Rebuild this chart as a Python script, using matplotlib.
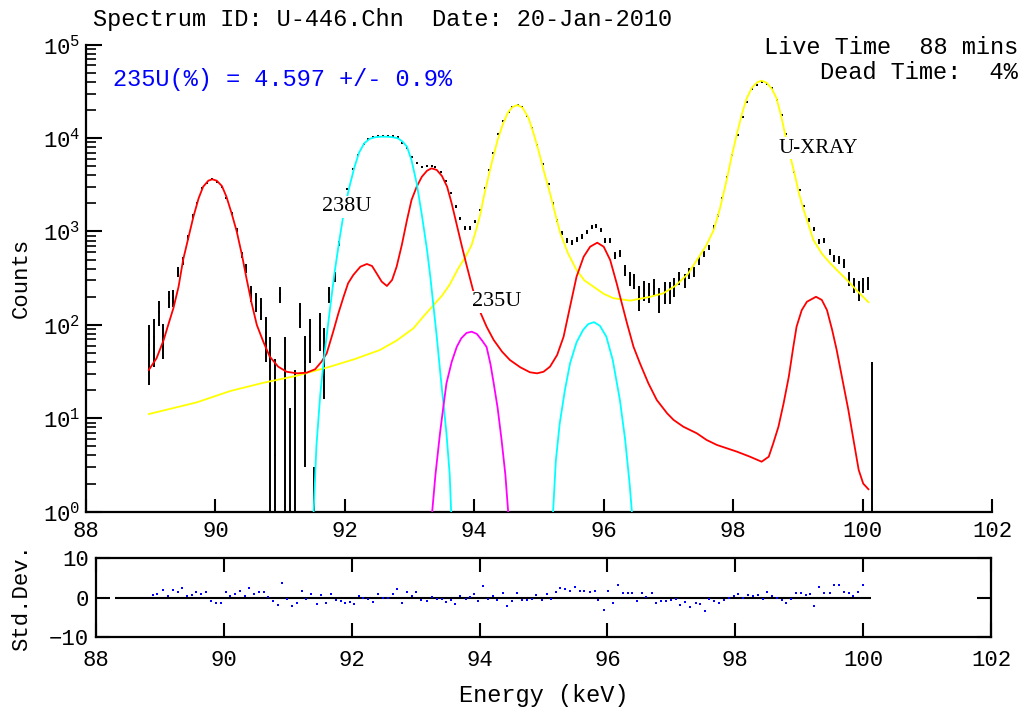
import numpy as np
import matplotlib
matplotlib.use("Agg")
from matplotlib import pyplot as plt
from matplotlib.ticker import LogLocator, NullFormatter, FixedLocator

plt.rcParams['font.family'] = ['Liberation Mono', 'DejaVu Sans']
plt.rcParams['font.size'] = 16

# measured spectrum: channel energy (keV), counts, 1-sigma uncertainty
kev = [88.97, 89.05, 89.13, 89.19, 89.28, 89.35, 89.42, 89.50, 89.58, 89.66,
       89.72, 89.80, 89.87, 89.95, 90.03, 90.10, 90.17, 90.25, 90.33, 90.41,
       90.48, 90.55, 90.63, 90.70, 90.78, 90.85, 90.92, 91.00, 91.08, 91.15,
       91.23, 91.31, 91.38, 91.46, 91.53, 91.61, 91.68, 91.76, 91.84, 91.91,
       91.99, 92.04, 92.13, 92.20, 92.29, 92.35, 92.43, 92.51, 92.59, 92.66,
       92.74, 92.82, 92.88, 92.96, 93.03, 93.11, 93.19, 93.27, 93.34, 93.40,
       93.48, 93.56, 93.64, 93.71, 93.78, 93.86, 93.94, 94.01, 94.09, 94.17,
       94.22, 94.29, 94.36, 94.44, 94.53, 94.59, 94.67, 94.74, 94.81, 94.89,
       94.97, 95.06, 95.15, 95.21, 95.28, 95.36, 95.44, 95.51, 95.58, 95.66,
       95.74, 95.82, 95.88, 95.96, 96.02, 96.10, 96.18, 96.25, 96.33, 96.40,
       96.47, 96.55, 96.62, 96.70, 96.78, 96.86, 96.94, 97.02, 97.09, 97.17,
       97.25, 97.32, 97.39, 97.47, 97.55, 97.62, 97.70, 97.76, 97.83, 97.90,
       97.98, 98.07, 98.15, 98.22, 98.29, 98.37, 98.44, 98.52, 98.60, 98.67,
       98.75, 98.82, 98.88, 98.94, 99.03, 99.10, 99.17, 99.25, 99.33, 99.41,
       99.49, 99.56, 99.64, 99.72, 99.79, 99.87, 99.95, 100.01, 100.09, 100.15]
counts = [61, 75, 139, 72, 192, 196, 372, 483, 867, 1466,
          2033, 2900, 3330, 3620, 3410, 3020, 2270, 1566, 1037, 560,
          404, 218, 180, 153, 81, 36, 4, 213, 36, -26,
          -5, 131, 40, 77, -35, 93, 54, 213, 330, 750,
          1600, 2830, 4670, 6600, 8650, 9780, 10350, 10600, 10650, 10650,
          10650, 10350, 8800, 7780, 6320, 5460, 4940, 5070, 5070, 4940,
          4370, 3470, 2565, 1845, 1380, 1080, 1080, 1275, 1700, 2900,
          4500, 6980, 10970, 15240, 19190, 21700, 22600, 21700, 17250, 12730,
          8440, 5240, 3230, 2000, 1306, 957, 798, 760, 825, 880,
          980, 1125, 1150, 1040, 800, 810, 560, 585, 387, 315,
          295, 200, 237, 227, 257, 193, 227, 227, 257, 315,
          302, 357, 370, 487, 575, 677, 1110, 1475, 2265, 3860,
          6590, 10800, 16950, 24550, 33250, 37000, 40200, 38000, 34100, 25600,
          17700, 11000, 6800, 4370, 2780, 1875, 1330, 1065, 778, 811,
          608, 517, 502, 457, 315, 267, 237, 267, 279, -10]
sigma = [38, 40, 42, 29, 40, 39, 44, 45, 50, 55,
         60, 65, 70, 70, 70, 65, 60, 55, 50, 46,
         45, 40, 42, 40, 41, 39, 39, 43, 39, 39,
         38, 39, 37, 38, 38, 40, 38, 43, 40, 48,
         55, 65, 75, 85, 95, 100, 105, 105, 105, 105,
         105, 105, 95, 90, 85, 80, 80, 80, 80, 80,
         75, 70, 65, 60, 55, 52, 52, 55, 58, 65,
         75, 90, 110, 125, 140, 150, 150, 150, 135, 115,
         95, 80, 65, 60, 55, 50, 50, 50, 50, 50,
         50, 52, 52, 52, 50, 50, 50, 50, 50, 52,
         52, 60, 55, 55, 55, 58, 58, 60, 58, 50,
         52, 50, 48, 45, 45, 45, 50, 55, 60, 70,
         85, 110, 135, 160, 185, 195, 200, 195, 185, 160,
         135, 110, 90, 75, 65, 58, 55, 52, 50, 50,
         48, 48, 48, 48, 52, 50, 55, 50, 45, 50]

# fitted components
red_kev = [88.97, 89.09, 89.20, 89.27, 89.35, 89.43, 89.50, 89.58, 89.66, 89.74,
           89.81, 89.89, 89.95, 90.02, 90.10, 90.17, 90.25, 90.33, 90.41, 90.48,
           90.56, 90.64, 90.74, 90.84, 90.97, 91.10, 91.26, 91.41, 91.54, 91.64,
           91.72, 91.82, 91.90, 91.98, 92.05, 92.13, 92.24, 92.34, 92.42, 92.49,
           92.57, 92.65, 92.73, 92.80, 92.88, 92.96, 93.03, 93.11, 93.19, 93.27,
           93.34, 93.42, 93.50, 93.58, 93.65, 93.73, 93.81, 93.88, 93.98, 94.09,
           94.19, 94.30, 94.43, 94.55, 94.71, 94.86, 94.97, 95.07, 95.17, 95.28,
           95.38, 95.48, 95.58, 95.69, 95.79, 95.90, 96.00, 96.10, 96.20, 96.28,
           96.36, 96.46, 96.56, 96.69, 96.82, 96.98, 97.08, 97.23, 97.44, 97.59,
           97.75, 98.06, 98.26, 98.44, 98.55, 98.62, 98.70, 98.78, 98.86, 98.93,
           98.98, 99.06, 99.14, 99.28, 99.37, 99.45, 99.53, 99.60, 99.68, 99.78,
           99.86, 99.94, 100.01, 100.09]
red_val = [32.9, 43.9, 68.9, 99.7, 150.6, 256, 495, 846, 1442, 2266,
           3017, 3499, 3622, 3499, 3070, 2360, 1567, 995, 560, 315,
           170, 99.7, 66, 45.7, 35.7, 31.5, 30.3, 30.8, 33.5, 40.4,
           49.7, 84.6, 133, 200, 279, 342, 420, 449, 427, 357,
           290, 261, 303, 420, 717, 1327, 2174, 3017, 3860, 4478,
           4750, 4560, 3930, 3017, 2004, 1174, 687, 438, 237, 138,
           95.7, 68.9, 51.6, 42.1, 35.2, 31.1, 30.3, 31.5, 35.7, 47.6,
           74.8, 157, 328, 537, 687, 759, 687, 495, 279, 170,
           104, 58.4, 38.8, 23.7, 15.7, 11.3, 9.6, 8.13, 6.9, 5.86,
           5.18, 4.39, 3.88, 3.43, 3.88, 5.4, 8.13, 14.5, 27.9, 58.4,
           95.7, 144, 177, 200, 185, 144, 88.3, 53.8, 27.9, 12.3,
           5.86, 2.8, 2.0, 1.74]

yel_kev = [88.97, 89.71, 90.23, 90.74, 91.26, 91.77, 92.15, 92.54, 92.80, 93.06,
           93.20, 93.37, 93.50, 93.62, 93.75, 93.88, 93.96, 94.03, 94.09, 94.15,
           94.22, 94.29, 94.36, 94.44, 94.52, 94.59, 94.67, 94.75, 94.84, 94.92,
           94.99, 95.08, 95.17, 95.25, 95.33, 95.45, 95.58, 95.70, 95.84, 96.00,
           96.15, 96.41, 96.72, 96.92, 97.10, 97.30, 97.44, 97.58, 97.70, 97.80,
           97.90, 97.98, 98.06, 98.14, 98.21, 98.29, 98.37, 98.44, 98.52, 98.60,
           98.67, 98.74, 98.80, 98.88, 98.96, 99.02, 99.09, 99.17, 99.24, 99.37,
           99.50, 99.63, 99.76, 99.92, 100.09]
yel_val = [11.1, 14.8, 19.6, 24, 28.6, 35.7, 43, 53.8, 68, 92,
           120, 163, 205, 270, 400, 560, 720, 1050, 1500, 2400,
           3900, 6200, 9500, 14000, 18800, 21500, 22600, 21000, 16300, 11000,
           7460, 4300, 2565, 1550, 957, 580, 387, 300, 257, 215,
           193, 182, 200, 218, 260, 350, 495, 700, 1037, 1800,
           3560, 6500, 11250, 18500, 26700, 34500, 39500, 41200, 39000, 33500,
           26700, 17500, 11250, 6500, 3860, 2500, 1700, 1150, 811, 580,
           457, 370, 302, 230, 175]

cyan1_kev = [91.50, 91.56, 91.62, 91.68, 91.76, 91.84, 91.92, 91.99, 92.07, 92.15,
             92.22, 92.30, 92.38, 92.46, 92.55, 92.64, 92.73, 92.82, 92.89, 92.96,
             93.03, 93.11, 93.19, 93.27, 93.32, 93.37, 93.42, 93.47, 93.52, 93.57,
             93.62, 93.66]
cyan1_val = [0.5, 5, 18, 45.7, 130, 360, 850, 1700, 3000, 4940,
             7000, 8800, 9800, 10200, 10350, 10350, 10250, 9950, 9200, 8090,
             5800, 3280, 1500, 634, 330, 157, 75, 32.9, 15, 6.9,
             2.5, 0.5]
cyan2_kev = [95.20, 95.26, 95.32, 95.40, 95.48, 95.58, 95.68, 95.76, 95.85, 95.94,
             96.04, 96.14, 96.25, 96.33, 96.40, 96.47]
cyan2_val = [0.6, 3.5, 8.8, 20, 38.8, 65, 88, 102, 107, 98,
             75, 42, 15.7, 6, 2, 0.5]

mag_kev = [93.33, 93.40, 93.47, 93.52, 93.57, 93.65, 93.73, 93.80, 93.88, 93.96,
           94.04, 94.12, 94.19, 94.25, 94.30, 94.36, 94.42, 94.48, 94.54]
mag_val = [0.7, 2.5, 6.9, 13, 23.7, 40, 58.4, 72, 82, 84.6,
           80, 68, 58, 38, 23.7, 13, 6, 2.5, 0.7]

# residuals (std. dev.)
res_kev = [88.89, 88.96, 89.05, 89.13, 89.20, 89.28, 89.35, 89.42, 89.50, 89.57,
           89.64, 89.72, 89.80, 89.87, 89.95, 90.03, 90.10, 90.17, 90.25, 90.33,
           90.40, 90.47, 90.55, 90.63, 90.69, 90.77, 90.85, 90.91, 90.99, 91.07,
           91.15, 91.22, 91.29, 91.37, 91.45, 91.52, 91.60, 91.67, 91.75, 91.83,
           91.90, 91.97, 92.03, 92.12, 92.18, 92.26, 92.34, 92.41, 92.49, 92.57,
           92.65, 92.71, 92.79, 92.86, 92.94, 93.01, 93.09, 93.17, 93.25, 93.33,
           93.41, 93.48, 93.56, 93.61, 93.70, 93.78, 93.85, 93.92, 93.98,
           94.06, 94.13, 94.21, 94.28, 94.36, 94.43, 94.51, 94.59, 94.66, 94.74,
           94.82, 94.89, 94.97, 95.05, 95.12, 95.19, 95.26, 95.34, 95.42, 95.49,
           95.57, 95.63, 95.72, 95.80, 95.86, 95.94, 96.01, 96.09, 96.17, 96.25,
           96.32, 96.39, 96.47, 96.54, 96.61, 96.69, 96.76, 96.84, 96.92, 97.00,
           97.07, 97.14, 97.22, 97.29, 97.38, 97.45, 97.52, 97.59, 97.67, 97.74,
           97.82, 97.90, 97.98, 98.04, 98.12, 98.20, 98.27, 98.35, 98.43, 98.49,
           98.57, 98.65, 98.73, 98.80, 98.87, 98.95, 99.03, 99.10, 99.17, 99.23,
           99.31, 99.39, 99.48, 99.54, 99.62, 99.70, 99.78, 99.84, 99.92, 99.99]
res_val = [0.6, 0.8, 2.0, 0.3, 2.0, 1.4, 2.5, 0.3, 0.6, 1.3,
           1.0, 1.3, -0.9, -1.3, -1.3, 1.4, 0.3, 0.8, 1.7, 0.3,
           2.4, 1.0, 1.3, 1.4, 0.2, -0.9, -1.8, 3.7, -0.5, -2.2,
           -1.5, 1.7, -0.5, 0.8, -1.7, 0.6, -1.3, 1.0, -0.7, -0.9,
           -1.3, -1.2, -1.7, 0.3, 0.0, -0.3, -1.1, 1.0, -0.2, -0.2,
           0.8, 2.1, -1.3, 1.3, 0.4, 1.4, -0.7, -0.9, 0.2, -0.3,
           -0.4, -1.1, -0.7, -1.7, 0.3, -0.4, 0.2, 1.0, -0.9,
           2.98, -0.26, 0.35, -0.7, 1.05, -2.2, -1.0, 1.05, -0.7, -0.7,
           -0.44, 0.6, -0.7, 0.9, -0.26, 1.3, 2.4, 2.2, 1.75, 2.6,
           1.75, 1.75, 1.5, 1.75, -0.7, -3.1, 1.75, -1.3, 3.07, 1.05,
           1.05, 1.05, -1.0, 1.05, 0.18, 1.05, -1.3, -1.0, -1.0, -0.7,
           -0.26, -2.0, -1.14, -2.3, -1.4, -1.75, -3.3, -0.26, -1.0, -1.4,
           -0.53, 0.0, 0.35, 0.8, 0.0, 0.6, 0.35, 0.6, -0.26, 1.5,
           0.35, 0.0, -0.7, -1.4, -0.44, 1.05, 1.05, 0.6, 0.9, -2.2,
           2.6, 1.05, 1.05, 3.07, 3.07, 1.5, 1.05, 0.44, 1.5, 3.07]

xticks = [88, 90, 92, 94, 96, 98, 100, 102]

fig = plt.figure(figsize=(10.23, 7.13), dpi=100)
ax = fig.add_axes([0.08407, 0.28233, 0.88563, 0.65498])
ax2 = fig.add_axes([0.09384, 0.10659, 0.87488, 0.1108])

kev_a = np.array(kev)
cnt = np.array(counts, dtype=float)
sig = np.array(sigma, dtype=float)

# fit components
ax.plot(yel_kev, yel_val, color='#ffff00', lw=1.3, zorder=3)
ax.plot(red_kev, red_val, color='#ff0000', lw=1.3, zorder=3)
ax.plot(cyan1_kev, cyan1_val, color='#00ffff', lw=1.3, zorder=3)
ax.plot(cyan2_kev, cyan2_val, color='#00ffff', lw=1.3, zorder=3)
ax.plot(mag_kev, mag_val, color='#ff00ff', lw=1.3, zorder=3)

# data with error bars
lo = np.clip(cnt - sig, 0.1, None)
hi = cnt + sig
ax.vlines(kev_a, lo, hi, color='black', lw=1.4, zorder=2)
pos = cnt > 0
ax.plot(kev_a[pos], cnt[pos], 's', color='black', ms=2, mew=0, zorder=2)

ax.set_yscale('log')
ax.set_xlim(88, 102)
ax.set_ylim(1, 1e5)
for s in ['top', 'right']:
    ax.spines[s].set_visible(False)
for s in ['left', 'bottom']:
    ax.spines[s].set_linewidth(1.6)
ax.xaxis.set_major_locator(FixedLocator(xticks))
ax.yaxis.set_major_locator(LogLocator(base=10, numticks=10))
ax.yaxis.set_minor_locator(LogLocator(base=10, subs=np.arange(2, 10), numticks=10))
ax.yaxis.set_minor_formatter(NullFormatter())
ax.tick_params(axis='x', direction='in', length=9.5, width=1.5, pad=7, labelsize=16)
ax.tick_params(axis='y', which='major', direction='in', length=11.5, width=1.5, pad=4, labelsize=16)
ax.tick_params(axis='y', which='minor', direction='in', length=7.5, width=1.2)
ax.set_ylabel('Counts', fontsize=16, labelpad=8)

ax.text(91.65, 1830, '238U', fontsize=16, ha='left', va='center', zorder=5,
        family='Liberation Serif',
        bbox=dict(facecolor='white', edgecolor='none', pad=1))
ax.text(93.97, 176, '235U', fontsize=16, ha='left', va='center', zorder=5,
        family='Liberation Serif',
        bbox=dict(facecolor='white', edgecolor='none', pad=1))
ax.text(98.70, 7820, 'U-XRAY', fontsize=15, ha='left', va='center', zorder=5,
        family='Liberation Serif',
        bbox=dict(facecolor='white', edgecolor='none', pad=1))

# residual panel
ax2.hlines(0, 88.3, 100.12, color='black', lw=1.5)
ax2.plot(res_kev, res_val, 's', color='#0000ff', ms=1.9, mew=0)
ax2.set_xlim(88, 102)
ax2.set_ylim(-10, 10)
ax2.xaxis.set_major_locator(FixedLocator(xticks))
ax2.set_yticks([-10, 0, 10])
for s in ax2.spines.values():
    s.set_linewidth(1.6)
ax2.tick_params(axis='x', direction='in', length=10, width=1.5, top=True, pad=9, labelsize=16)
ax2.tick_params(axis='y', direction='in', length=10, width=1.5, right=True, pad=5, labelsize=16)
ax2.set_ylabel('Std.Dev.', fontsize=16, labelpad=12)
ax2.set_xlabel('Energy (keV)', fontsize=17, labelpad=10)

fig.text(93 / 1023, 0.972, 'Spectrum ID: U-446.Chn  Date: 20-Jan-2010',
         ha='left', va='center', fontsize=17)
fig.text(113 / 1023, 0.888, '235U(%) = 4.597 +/- 0.9%', color='#0000ff',
         ha='left', va='center', fontsize=17)
fig.text(1018 / 1023, 0.934, 'Live Time  88 mins', ha='right', va='center', fontsize=17)
fig.text(1018 / 1023, 0.898, 'Dead Time:  4%', ha='right', va='center', fontsize=17)

fig.savefig('out.png', dpi=100)
